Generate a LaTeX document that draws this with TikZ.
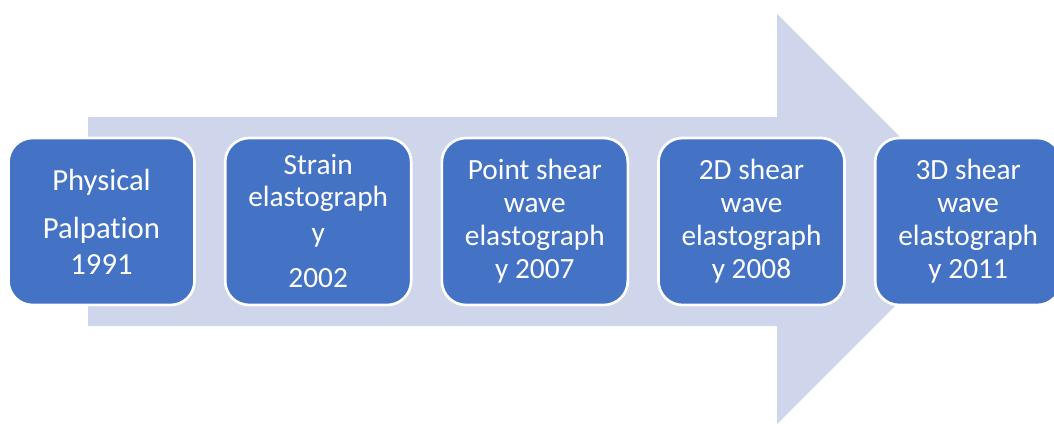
\documentclass[tikz,border=0pt]{standalone}
\usepackage{fontspec}
\setmainfont[Ligatures=NoCommon]{Carlito}
\usetikzlibrary{positioning}
\definecolor{stageblue}{HTML}{4472C4}
\definecolor{arrowbg}{HTML}{CFD5EA}

\begin{document}
\begin{tikzpicture}[x=0.75pt,y=-0.75pt,
  stage/.style={rectangle,rounded corners=18pt,fill=stageblue,draw=white,line width=2pt,
    minimum width=139.5pt,minimum height=125.25pt,inner sep=0pt,outer sep=0pt,align=center,text=white,
    font=\fontsize{22}{24.75}\selectfont}]
\useasboundingbox (0,0) rectangle (1054,424);
\clip (0,0) rectangle (1054,424);

% big arrow behind the stages
\fill[arrowbg] (88,117) -- (777,117) -- (777,14) -- (982,219) -- (777,424) -- (777,326) -- (88,326) -- cycle;

% stages
\node[stage,font=\fontsize{23}{26}\selectfont] (palp) at (101.5,221.5) {Physical\\[10pt]Palpation\\[1pt]1991};
\node[stage,right=23pt of palp] (strain) {Strain\\[-0.75pt]elastograph\\[2.25pt]y\\[9pt]2002};
\node[stage,right=23pt of strain] (point) {Point shear\\wave\\elastograph\\y 2007};
\node[stage,right=23pt of point] (twod) {2D shear\\wave\\elastograph\\y 2008};
\node[stage,right=23pt of twod] (threed) {3D shear\\wave\\elastograph\\y 2011};

\end{tikzpicture}
\end{document}
